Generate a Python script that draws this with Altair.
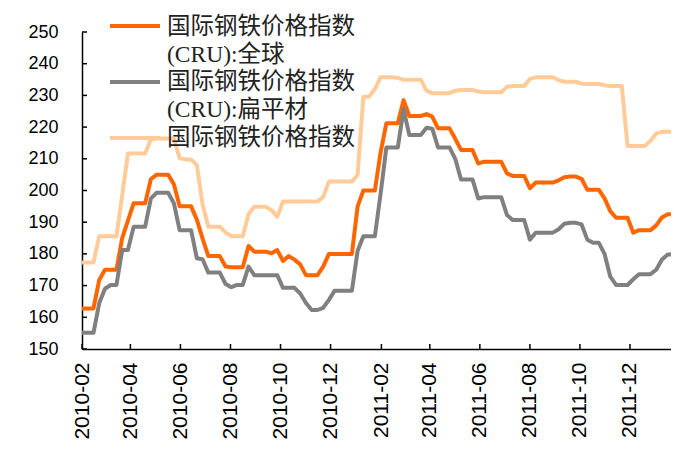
import altair as alt
import pandas as pd

start_date = "2010-02-01"
n_weeks = 105

cru_global = [
    162.8, 162.8, 162.8, 171.8, 175, 175, 175, 185, 190.5, 196,
    196, 196, 203.6, 205, 205, 205, 202, 195, 195, 195,
    190.8, 184.8, 179.3, 179.3, 179.3, 176, 175.8, 175.8, 175.8, 182.5,
    180.7, 180.7, 180.7, 180.2, 181.2, 177.8, 179.3, 178.2, 176.7, 173.3,
    173.3, 173.3, 176, 180, 180, 180, 180, 180, 195, 200,
    200, 200, 212, 221.2, 221.2, 221.2, 228.5, 223.5, 223.5, 223.5,
    224.1, 223.3, 219.6, 219.6, 219.6, 216.3, 212.8, 212.8, 212.8, 208.5,
    209.1, 209.1, 209.1, 209.1, 205.4, 204.6, 204.6, 204.6, 200.7, 202.5,
    202.5, 202.5, 202.5, 203.2, 204.2, 204.4, 204.4, 203.7, 200.2, 200.2,
    200.2, 197.5, 193.5, 191.4, 191.4, 191.4, 186.7, 187.5, 187.5, 187.5,
    189, 191.5, 192.5, 192.5, 192.5,
]

cru_flat = [
    155.1, 155.1, 155.1, 164.5, 169, 170.2, 170.2, 181.2, 181.2, 188.6,
    188.6, 188.6, 197.5, 199.3, 199.3, 199.3, 196, 187.5, 187.5, 187.5,
    178.6, 178.3, 174.1, 174.1, 174.1, 170.5, 169.5, 170.2, 170.2, 176,
    173.3, 173.3, 173.3, 173.3, 173.3, 169.3, 169.3, 169.3, 167.5, 164.5,
    162.3, 162.3, 163, 165.5, 168.4, 168.4, 168.4, 168.4, 181, 185.6,
    185.6, 185.6, 199, 213.6, 213.6, 213.6, 225.6, 217.5, 217.5, 217.5,
    219.8, 219.5, 213.6, 213.6, 213.6, 210, 203.5, 203.5, 203.5, 197.5,
    197.9, 197.9, 197.9, 197.9, 192.3, 190.7, 190.7, 190.7, 184.5, 186.7,
    186.7, 186.7, 186.7, 187.8, 189.5, 189.8, 189.8, 189.3, 184.5, 183.5,
    183.5, 180, 172.8, 170.2, 170.2, 170.2, 172, 173.6, 173.6, 173.6,
    175, 178.2, 179.8, 179.8, 179.8,
]

cru_third = [
    177.3, 177.3, 177.3, 185.6, 185.6, 185.6, 185.6, 198.5, 211.7, 211.7,
    211.7, 211.7, 216.2, 216.4, 216.4, 216.4, 216.4, 210.2, 209.8, 209.8,
    208, 195.5, 188.6, 188.6, 188.6, 186.8, 185.6, 185.6, 185.6, 192.5,
    194.9, 194.9, 194.9, 193.8, 191.7, 196.5, 196.5, 196.5, 196.5, 196.5,
    196.5, 196.5, 198, 202.8, 202.8, 202.8, 202.8, 202.8, 205, 229.6,
    229.6, 232, 235.7, 235.7, 235.7, 235.5, 234.9, 234.9, 234.9, 234.9,
    231.5, 230.7, 230.7, 230.7, 230.7, 231.5, 231.7, 231.7, 231.7, 231.2,
    231, 231, 231, 231, 232.7, 233, 233, 233, 235.2, 235.7,
    235.7, 235.7, 235.7, 234.8, 234.3, 234.3, 234.3, 233.7, 233.6, 233.6,
    233.6, 233.2, 233, 233, 233, 214, 214, 214, 214, 215.7,
    218, 218.5, 218.5, 218.5, 218.5,
]

series_names = ["全球", "扁平材", "其他"]
series_colors = ["#FF6600", "#808080", "#FFCC99"]
legend_lines = [
    ["国际钢铁价格指数", "(CRU):全球"],
    ["国际钢铁价格指数", "(CRU):扁平材"],
    ["国际钢铁价格指数"],
]
y_ticks = [150, 160, 170, 180, 190, 200, 210, 220, 230, 240, 250]
x_tick_dates = ["2010-02-01", "2010-04-01", "2010-06-01", "2010-08-01", "2010-10-01",
                "2010-12-01", "2011-02-01", "2011-04-01", "2011-06-01", "2011-08-01",
                "2011-10-01", "2011-12-01"]

dates = pd.date_range(start_date, periods=n_weeks, freq="7D").strftime("%Y-%m-%d")
frames = []
for name, vals in zip(series_names, [cru_global, cru_flat, cru_third]):
    frames.append(pd.DataFrame({"date": dates, "value": vals, "series": name}))
df = pd.concat(frames, ignore_index=True)

W, H = 589, 317
FONT = "Liberation Sans, Arial, sans-serif"

xscale = alt.Scale(type="utc", domain=[alt.DateTime(year=2010, month=2, date=1, utc=True),
                                       alt.DateTime(year=2012, month=1, date=20, utc=True)],
                   nice=False)
yscale = alt.Scale(domain=[150, 250], nice=False, zero=False)

x_axis = alt.Axis(
    values=[alt.DateTime(year=int(d[:4]), month=int(d[5:7]), date=1, utc=True) for d in x_tick_dates],
    format="%Y-%m", labelAngle=270, labelFont=FONT, labelFontSize=21, labelColor="black",
    ticks=False, domainColor="black", domainWidth=1.5, labelPadding=13, grid=False,
    title=None, labelOverlap=False, labelFlush=False,
)
y_axis = alt.Axis(
    values=y_ticks, labelFont=FONT, labelFontSize=18, labelColor="black", ticks=False,
    domainColor="black", domainWidth=1.5, labelPadding=24, grid=False, title=None,
)

layers = []
for i, name in enumerate(series_names):
    sub = df[df["series"] == name]
    layers.append(
        alt.Chart(sub).mark_line(color=series_colors[i], strokeWidth=4, strokeJoin="round", clip=True)
        .encode(
            x=alt.X("date:T", scale=xscale, axis=x_axis),
            y=alt.Y("value:Q", scale=yscale, axis=y_axis),
        )
    )

# inward ticks
yt = pd.DataFrame({"v": y_ticks})
layers.append(alt.Chart(yt).mark_rule(color="black", strokeWidth=1.5).encode(
    y=alt.Y("v:Q", scale=yscale, axis=y_axis), x=alt.value(0), x2=alt.value(5)))
xt = pd.DataFrame({"d": x_tick_dates})
layers.append(alt.Chart(xt).mark_rule(color="black", strokeWidth=1.5).encode(
    x=alt.X("d:T", scale=xscale, axis=x_axis), y=alt.value(H), y2=alt.value(H - 5)))

# legend
sym_y = [-6, 50, 106]
text_y = [[-5, 23], [50, 78], [106]]
one = pd.DataFrame({"a": [0]})
for i in range(3):
    layers.append(alt.Chart(one).mark_rule(color=series_colors[i], strokeWidth=4).encode(
        x=alt.value(28), x2=alt.value(78), y=alt.value(sym_y[i])))
    for line, ty in zip(legend_lines[i], text_y[i]):
        layers.append(alt.Chart(one).mark_text(
            text=line, align="left", baseline="middle", fontSize=23.5,
            font="Liberation Serif, Noto Sans CJK SC", color="#222222").encode(
            x=alt.value(85), y=alt.value(ty)))

chart = alt.layer(*layers).properties(
    width=W, height=H,
    autosize=alt.AutoSizeParams(type="none"),
    padding={"left": 74, "top": 24, "right": 0, "bottom": 90},
    background="white",
).configure_view(stroke=None)

chart.save("out.html", embed_options={"renderer": "svg", "actions": False})
